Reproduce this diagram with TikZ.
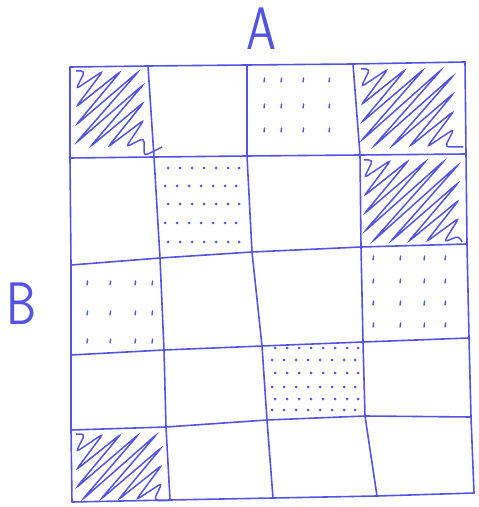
\documentclass[tikz,border=0pt]{standalone}
\usepackage{tikz}
\definecolor{InkBlue}{RGB}{84,84,228}

% zigzag scribble filling a cell: left, top, width, height (pixels)
\newcommand{\hatchcell}[4]{%
  \pgfmathtruncatemacro{\hatchend}{#3+#4}
  \begin{scope}[shift={(#1,#2)}]
    \draw[hatch] (0,0) foreach \c in {0,18,...,\hatchend} {
      -- ({min(#3,\c+9)},{max(0,\c+9-#3)})
      -- ({max(0,\c+18-#4)},{min(#4,\c+18)})};
  \end{scope}}

\begin{document}
\begin{tikzpicture}[x=0.5pt,y=-0.5pt,
  ink/.style={InkBlue,line width=0.8pt,line cap=round,line join=round},
  hatch/.style={InkBlue,line width=0.75pt,rounded corners=2pt},
  tick/.style={InkBlue,line width=0.7pt,line cap=round},
  letter/.style={InkBlue,font=\sffamily\fontsize{30}{30}\selectfont,xscale=0.8}]
\useasboundingbox (0,0) rectangle (478,507);

% corners of the hand drawn grid
\foreach \i/\pts in {0/{70/67,148/66,247/65,353/64,465/62},
                     1/{70/158,154/157,247/156,360/155,466/154},
                     2/{71/265,160/258,252/252,361/247,467/244},
                     3/{71/355,164/350,262/346,363/342,469/338},
                     4/{71/430,166/427,267/420,365/416,471/417},
                     5/{72/502,170/500,273/498,377/496,474/493}}
  \foreach \x/\y [count=\j from 0] in \pts
    \coordinate (g-\i-\j) at (\x,\y);

% rows and columns
\foreach \i in {0,...,5}
  \draw[ink] (g-\i-0) -- (g-\i-1) -- (g-\i-2) -- (g-\i-3) -- (g-\i-4);
\foreach \j in {0,...,4}
  \draw[ink] (g-0-\j) -- (g-1-\j) -- (g-2-\j) -- (g-3-\j) -- (g-4-\j) -- (g-5-\j);

% labels
\node[letter] (labA) at (261,29) {A};
\node[letter] (labB) at (22,304) {B};

% scribbled cells
\hatchcell{76}{71}{68}{76}
\hatchcell{361}{69}{93}{78}
\hatchcell{364}{160}{95}{82}
\hatchcell{76}{434}{86}{66}

% sparse ticks
\foreach \x in {264,281,303,329} \foreach \y in {82,108,132}
  \draw[tick] (\x,\y) -- ++(0.6,-4);
\foreach \x in {87,110,135,152} \foreach \y in {285,315,343}
  \draw[tick] (\x,\y) -- ++(0.6,-4);
\foreach \x in {373,400,424,445} \foreach \y in {260,283,305,327}
  \draw[tick] (\x,\y) -- ++(0.6,-4);

% dense dots
\foreach \y [count=\k] in {168,186,204,223,242} \foreach \x in {165,177,189,201,213,225,236}
  \fill[InkBlue] ({\x+3*mod(\k,2)},\y) circle (0.75pt);
\foreach \y [count=\k] in {348,360,373,387,399,410} \foreach \x in {272,284,296,308,320,332,344,355}
  \fill[InkBlue] ({\x+3*mod(\k,2)},\y) circle (0.75pt);
\end{tikzpicture}
\end{document}
